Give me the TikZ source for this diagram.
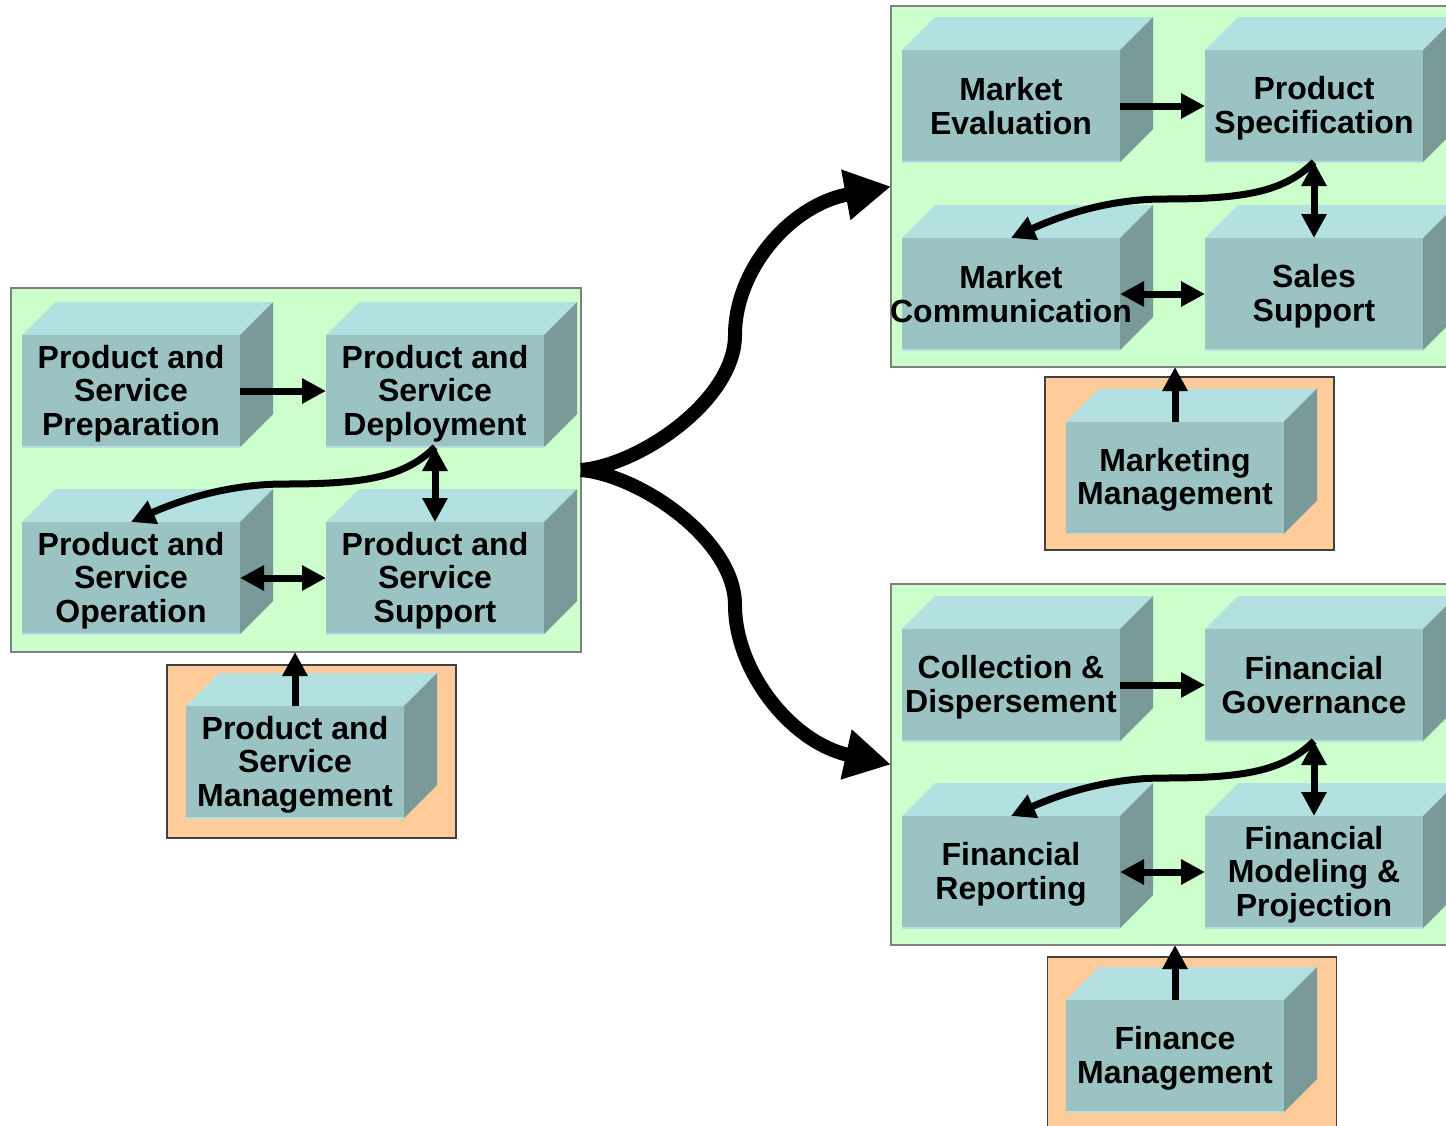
\documentclass[tikz,border=0pt]{standalone}
\usepackage{fontspec}
\setmainfont{Liberation Sans}
\usetikzlibrary{arrows.meta,calc}

\definecolor{panelgreen}{HTML}{CCFFCC}
\definecolor{panelline}{HTML}{808080}
\definecolor{mgmtorange}{HTML}{FFCC99}
\definecolor{mgmtline}{HTML}{404040}
\definecolor{cubefrontc}{HTML}{9CC3C3}
\definecolor{cubetopc}{HTML}{B3E0E0}
\definecolor{cubesidec}{HTML}{7A9A9A}

% struts that keep every label block centred on its cap height
\newcommand\capstrutup{\rule{0pt}{14pt}}
\newcommand\capstrutdown{\rule[-2.5pt]{0pt}{2.5pt}}

\tikzset{
  panel/.style={rectangle, draw=panelline, line width=1pt, fill=panelgreen,
    inner sep=0pt, outer sep=0pt},
  mgmtpanel/.style={rectangle, draw=mgmtline, line width=0.6pt, fill=mgmtorange,
    inner sep=0pt, outer sep=0pt, minimum width=144.5pt, minimum height=86.5pt},
  cubefront/.style={rectangle, fill=cubefrontc, inner sep=0pt, outer sep=0pt,
    minimum width=109pt, minimum height=56pt},
  cubetext/.style={inner sep=0pt, align=center,
    font=\bfseries\fontsize{16}{16.75}\selectfont},
  flow/.style={line width=3.5pt},
  bigflow/.style={line width=7pt, -{Triangle[length=23pt,width=24pt]}},
}

% a box drawn as a cube: top and side faces first, then the labelled front face
\newcommand\cubeblock[4]{%
  \fill[cubetopc] (#2-109,#3-56) -- (#2-76,#3-89) -- (#2+142,#3-89) -- (#2+109,#3-56) -- cycle;
  \fill[cubesidec] (#2+109,#3-56) -- (#2+142,#3-89) -- (#2+142,#3+23) -- (#2+109,#3+56) -- cycle;
  \node[cubefront, label={[cubetext]center:\capstrutup#4\capstrutdown}] (#1) at (#2,#3) {};
  \draw[cubetopc, line width=0.8pt] (#1.south west) -- (#1.south east);
}

% curved hand-off arrow from the bottom of one cube to the top of another
\newcommand\swoop[2]{%
  \draw[flow,->] (#1.south) .. controls +(-30,30) and +(80,0) ..
    ($(#1.south)+(-150,37)$) .. controls +(-60,0) and +(45,-20) .. (#2.north);
}

\begin{document}
\begin{tikzpicture}[x=0.5pt, y=-0.5pt, >={Triangle[length=12pt,width=12pt]}]
\useasboundingbox (0,0) rectangle (1446,1125);

% ---------- group panels ----------
\node[panel, minimum width=285pt, minimum height=182pt] (leftp) at (296,470) {};
\node[panel, minimum width=289.5pt, minimum height=180.5pt] (topp) at (1180.5,186.5) {};
\node[panel, minimum width=289.5pt, minimum height=180.5pt] (botp) at (1180.5,764.5) {};

\node[mgmtpanel] (psmp) at (311.5,751.5) {};
\node[mgmtpanel] (mmp) at (1189.5,463.5) {};
\node[mgmtpanel, minimum height=91.5pt] (fmp) at (1192,1048.5) {};

% ---------- product and service group ----------
\cubeblock{prep}{131}{391}{Product and\\Service\\Preparation}
\cubeblock{deploy}{435}{391}{Product and\\Service\\Deployment}
\cubeblock{oper}{131}{578}{Product and\\Service\\Operation}
\cubeblock{supp}{435}{578}{Product and\\Service\\Support}
\cubeblock{psm}{295}{762}{Product and\\Service\\Management}

% ---------- marketing group ----------
\cubeblock{meval}{1011}{106}{Market\\Evaluation}
\cubeblock{pspec}{1314}{106}{Product\\Specification}
\cubeblock{mcomm}{1011}{294}{Market\\Communication}
\cubeblock{sales}{1314}{294}{Sales\\Support}
\cubeblock{mmgmt}{1175}{477.5}{Marketing\\Management}

% ---------- finance group ----------
\cubeblock{coll}{1011}{685}{Collection \&\\Dispersement}
\cubeblock{fgov}{1314}{685}{Financial\\Governance}
\cubeblock{frep}{1011}{872}{Financial\\Reporting}
\cubeblock{fmod}{1314}{872}{Financial\\Modeling \&\\Projection}
\cubeblock{fmgmt}{1175}{1056}{Finance\\Management}

% ---------- arrows inside the groups ----------
\draw[flow,->] (prep.east) -- (deploy.west);
\draw[flow,<->] (oper.east) -- (supp.west);
\draw[flow,<->] (deploy.south) -- (supp.north);
\swoop{deploy}{oper}

\draw[flow,->] (meval.east) -- (pspec.west);
\draw[flow,<->] (mcomm.east) -- (sales.west);
\draw[flow,<->] (pspec.south) -- (sales.north);
\swoop{pspec}{mcomm}

\draw[flow,->] (coll.east) -- (fgov.west);
\draw[flow,<->] (frep.east) -- (fmod.west);
\draw[flow,<->] (fgov.south) -- (fmod.north);
\swoop{fgov}{frep}

% ---------- management feeds ----------
\draw[flow,->] (psm.north) -- (psm.north |- leftp.south);
\draw[flow,->] (mmgmt.north) -- (mmgmt.north |- topp.south);
\draw[flow,->] (fmgmt.north) -- (fmgmt.north |- botp.south);

% ---------- branching arrows ----------
\draw[bigflow] (leftp.east) .. controls (640,465) and (735,400) .. (735,335)
  .. controls (735,270) and (790,205) .. (topp.west);
\draw[bigflow] (leftp.east) .. controls (640,475) and (735,540) .. (735,605)
  .. controls (735,670) and (790,742) .. (botp.west);
\end{tikzpicture}
\end{document}
